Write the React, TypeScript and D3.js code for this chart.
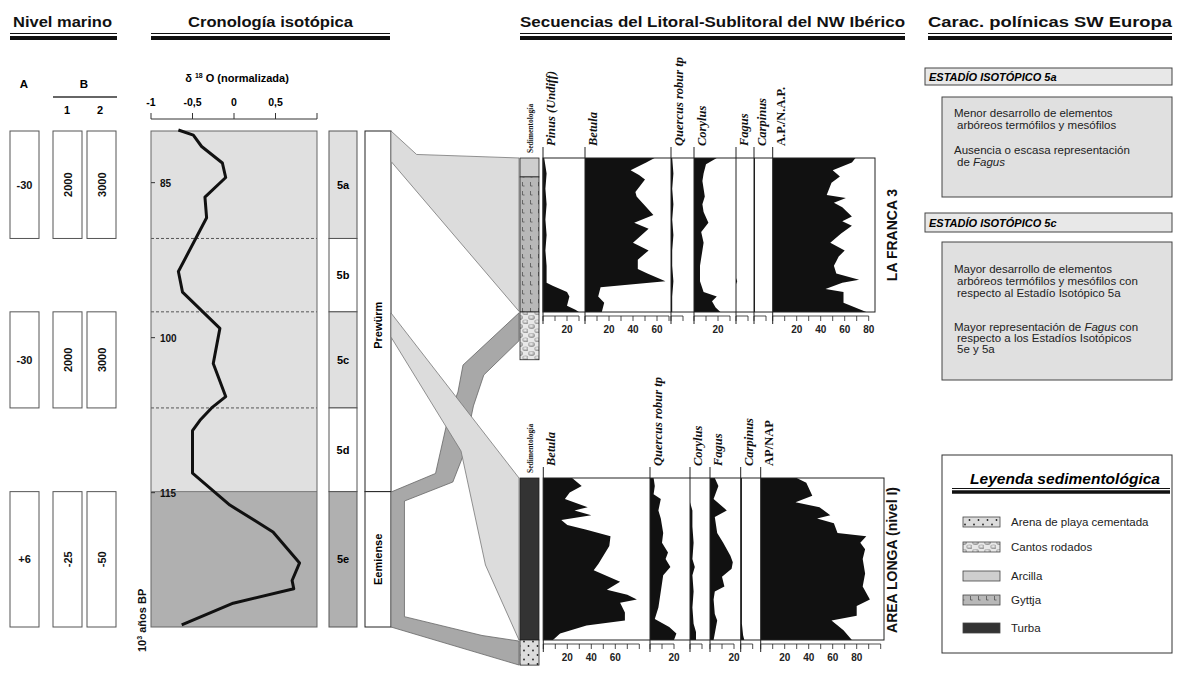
import React from "react";
import * as d3 from "d3";

// ---------------- DATA ----------------
// Isotope curve (age in ka, normalised d18O)
const isoAge = [79.9, 80.4, 81.5, 83.1, 84.5, 86.4, 88.4, 93.6, 95.6, 99.1, 102.5, 105.7, 106.8, 108.0, 109.0, 113.1, 116.2, 118.8, 121.8, 123.5, 124.3, 125.7, 127.8];
const isoD18O = [-0.67, -0.49, -0.39, -0.14, -0.1, -0.35, -0.33, -0.67, -0.62, -0.17, -0.25, -0.1, -0.27, -0.41, -0.5, -0.5, -0.05, 0.47, 0.79, 0.7, 0.72, -0.01, -0.63];
const isoTickValues = [-1, -0.5, 0, 0.5, 1];
const isoTickLabels = ["-1", "-0,5", "0", "0,5", ""];
const ageTickValues = [85, 100, 115];

const stageNames = ["5a", "5b", "5c", "5d", "5e"];
const stageLimits = [80, 90.4, 97.5, 106.8, 114.9, 128];
const stageTone = ["light", "white", "light", "white", "dark"];

const periodNames = ["Prewürm", "Eemiense"];
const periodLimits = [80, 114.9, 128];

const seaStages = [0, 2, 4];
const seaLevelA = ["-30", "-30", "+6"];
const seaLevelB1 = ["2000", "2000", "-25"];
const seaLevelB2 = ["3000", "3000", "-50"];

// La Franca 3 (relative depth 0 = top, 1 = base of pollen record; value %)
const lfTaxa = ["Pinus (Undiff)", "Betula", "Quercus robur tp", "Corylus", "Fagus", "Carpinus", "A.P./N.A.P."];
const lfPinus = [[0, 1], [0.1, 3], [0.2, 2], [0.3, 3], [0.4, 2], [0.5, 3], [0.6, 2], [0.7, 3], [0.81, 3], [0.83, 8], [0.87, 20], [0.9, 22], [0.96, 20], [0.985, 27], [1, 30]];
const lfBetula = [[0, 58], [0.03, 51], [0.08, 38], [0.11, 45], [0.14, 50], [0.22, 42], [0.25, 43], [0.37, 57], [0.42, 41], [0.46, 53], [0.55, 40], [0.6, 53], [0.66, 44], [0.72, 44], [0.75, 52], [0.8, 67], [0.84, 13], [0.9, 11], [0.94, 16], [1, 14]];
const lfQuercus = [[0, 1], [0.1, 2], [0.2, 1], [0.3, 2], [0.4, 1], [0.5, 2], [0.6, 1], [0.7, 1], [0.8, 2], [0.9, 1], [1, 1]];
const lfCorylus = [[0, 19], [0.04, 10], [0.1, 8], [0.15, 7], [0.2, 8], [0.25, 9], [0.3, 7], [0.35, 8], [0.42, 12], [0.48, 6], [0.55, 8], [0.6, 7], [0.7, 5], [0.8, 5], [0.87, 8], [0.9, 19], [0.93, 15], [0.97, 18], [1, 22]];
const lfFagus = [[0, 0], [0.78, 0], [0.8, 1], [0.82, 0], [1, 0]];
const lfCarpinus = [[0, 0.8], [0.25, 0.8], [0.5, 0.8], [0.75, 0.8], [1, 0.8]];
const lfApNap = [[0, 69], [0.03, 66], [0.08, 50], [0.12, 56], [0.16, 49], [0.24, 45], [0.26, 61], [0.29, 51], [0.32, 58], [0.38, 66], [0.41, 58], [0.44, 66], [0.49, 57], [0.55, 48], [0.6, 60], [0.64, 55], [0.67, 53], [0.7, 51], [0.75, 53], [0.79, 72], [0.81, 58], [0.85, 44], [0.87, 59], [0.94, 59], [1, 78]];
const lfAxisMax = [30, 70, 10, 30, 10, 10, 80];
const lfAxisLabels = [[20], [20, 40, 60], [], [20], [], [], [20, 40, 60, 80]];
const lfSediment = [["arcilla", 0, 0.123], ["gyttja", 0.123, 1], ["cantos", 1, 1.31]];

// Area Longa (nivel I)
const alTaxa = ["Betula", "Quercus robur tp", "Corylus", "Fagus", "Carpinus", "AP/NAP"];
const alBetula = [[0, 24], [0.05, 32], [0.09, 22], [0.13, 18], [0.18, 37], [0.2, 26], [0.23, 40], [0.26, 15], [0.29, 20], [0.32, 36], [0.36, 56], [0.42, 55], [0.53, 46], [0.57, 42], [0.64, 64], [0.69, 53], [0.72, 70], [0.75, 78], [0.77, 64], [0.83, 68], [0.88, 68], [0.91, 36], [0.96, 14], [1, 8]];
const alQuercus = [[0, 3], [0.05, 4], [0.1, 3], [0.13, 9], [0.2, 7], [0.25, 9], [0.34, 11], [0.4, 10], [0.46, 15], [0.5, 13], [0.55, 17], [0.6, 11], [0.7, 9], [0.8, 7], [0.87, 4], [0.92, 16], [0.96, 22], [1, 20]];
const alCorylus = [[0, 0], [0.15, 0], [0.2, 2], [0.3, 2], [0.4, 3], [0.5, 2], [0.55, 4], [0.6, 2], [0.7, 3], [0.8, 2], [0.9, 3], [0.95, 5], [1, 5]];
const alFagus = [[0, 4], [0.05, 7], [0.13, 3], [0.2, 14], [0.24, 4], [0.34, 6], [0.4, 11], [0.48, 17], [0.52, 19], [0.56, 18], [0.61, 10], [0.67, 12], [0.7, 4], [0.75, 3], [0.84, 4], [0.88, 6], [0.96, 4], [1, 3]];
const alCarpinus = [[0, 1], [0.3, 1], [0.6, 1], [0.9, 1], [0.97, 2], [1, 3]];
const alApNap = [[0, 30], [0.03, 38], [0.11, 43], [0.15, 29], [0.18, 49], [0.23, 58], [0.25, 47], [0.28, 61], [0.3, 62], [0.34, 64], [0.36, 88], [0.4, 83], [0.44, 87], [0.5, 85], [0.59, 87], [0.67, 85], [0.75, 91], [0.79, 80], [0.85, 80], [0.88, 59], [0.94, 69], [1, 76]];
const alAxisMax = [80, 20, 10, 20, 10, 100];
const alAxisLabels = [[20, 40, 60], [20], [], [20], [], [20, 40, 60, 80]];
const alSediment = [["turba", 0, 1], ["arena", 1, 1.155]];

// Correlation bands: [fraction across the gap, age-equivalent level]
const bandTop = [[0, 80], [0.2, 82.27], [1, 82.61], [1, 97.45], [0, 82.94]];
const bandDark = [[1, 97.6], [0.5625, 102.65], [0.523, 105.26], [0.442, 107.97], [0.348, 113.14], [0, 114.94], [0, 128], [1, 131.68], [1, 129.36], [0.711, 128.82], [0.105, 127], [0.105, 115.81], [0.483, 113.97], [0.5625, 111.45], [0.644, 106.61], [0.725, 103.61], [1, 100.3]];
const bandCross = [[0, 97.61], [1, 113.58], [1, 129.26], [0.738, 122], [0.547, 110.97], [0, 99.94]];

const legendKeys = ["arena", "cantos", "arcilla", "gyttja", "turba"];
const legendNames = ["Arena de playa cementada", "Cantos rodados", "Arcilla", "Gyttja", "Turba"];

const headers = ["Nivel marino", "Cronología isotópica", "Secuencias del Litoral-Sublitoral del NW Ibérico", "Carac. polínicas SW Europa"];

// ---------------- STYLE / LAYOUT ----------------
const SANS = "'Liberation Sans', Arial, sans-serif";
const SERIF = "'Liberation Serif', 'Times New Roman', serif";
const LIGHT = "#e0e0e0";
const DARK = "#b0b0b0";
const K = 1.2; // px per %

const headerRules = [[10, 117], [151, 390], [520, 905], [928, 1172]];
const headerText = [[13, 99], [188, 165], [520, 385], [928, 244]];

function DoubleRule({ x1, x2, y }: { x1: number; x2: number; y: number }) {
  return (
    <g>
      <line x1={x1} x2={x2} y1={y} y2={y} stroke="#111" strokeWidth={1.2} />
      <line x1={x1} x2={x2} y1={y + 4.5} y2={y + 4.5} stroke="#111" strokeWidth={4} />
    </g>
  );
}

type SiteProps = {
  top: number; bottom: number; right: number; x0s: number[]; names: string[];
  series: number[][][]; maxes: number[]; labels: number[][]; sed: any[];
  title: string; titleY: number; upright: number;
};

function Site(p: SiteProps) {
  const yD = d3.scaleLinear().domain([0, 1]).range([p.top, p.bottom]);
  return (
    <g>
      {p.sed.map(([kind, a, b]: any, i: number) => (
        <rect key={i} x={520} y={yD(a)} width={19} height={yD(b) - yD(a)} fill={`url(#${kind})`} stroke="#222" strokeWidth={0.8} />
      ))}
      <text transform={`translate(532.5,${p.top - 5}) rotate(-90)`} fontFamily={SERIF} fontWeight="bold" fontSize={7.5} fill="#111">Sedimentología</text>
      <rect x={p.x0s[0]} y={p.top} width={p.right - p.x0s[0]} height={p.bottom - p.top} fill="#fff" />
      {p.series.map((s, i) => {
        const x = d3.scaleLinear().domain([0, p.maxes[i]]).range([p.x0s[i], p.x0s[i] + p.maxes[i] * K]);
        const area = d3.area<number[]>().x0(x(0)).x1((d) => x(d[1])).y((d) => yD(d[0]));
        const ticks = d3.range(0, p.maxes[i] + 0.01, 10);
        const axY = p.bottom + 4;
        return (
          <g key={i}>
            <path d={area(s as any) || ""} fill="#111" />
            <line x1={p.x0s[i]} x2={p.x0s[i]} y1={p.top - 11} y2={p.bottom + 12} stroke="#222" strokeWidth={1} />
            <line x1={x(0)} x2={x(p.maxes[i])} y1={axY} y2={axY} stroke="#222" strokeWidth={0.8} />
            {ticks.map((t) => (
              <line key={t} x1={x(t)} x2={x(t)} y1={axY} y2={axY + 5} stroke="#222" strokeWidth={0.8} />
            ))}
            {p.labels[i].map((t) => (
              <text key={t} x={x(t)} y={p.bottom + 21} textAnchor="middle" fontFamily={SANS} fontWeight="bold" fontSize={10} fill="#222">{t}</text>
            ))}
            <text transform={`translate(${p.x0s[i] + 12},${p.top - 12}) rotate(-90)`} fontFamily={SERIF} fontWeight="bold" fontStyle={i === p.upright ? "normal" : "italic"} fontSize={12.5} fill="#111">{p.names[i]}</text>
          </g>
        );
      })}
      <rect x={p.x0s[0]} y={p.top} width={p.right - p.x0s[0]} height={p.bottom - p.top} fill="none" stroke="#222" strokeWidth={1} />
      <text transform={`translate(897,${p.titleY}) rotate(-90)`} textAnchor="middle" fontFamily={SANS} fontWeight="bold" fontSize={14} fill="#111">{p.title}</text>
    </g>
  );
}

export default function App() {
  const yAge = d3.scaleLinear().domain([80, 128]).range([131, 627]);
  const xIso = d3.scaleLinear().domain([-1, 1]).range([151, 317]);
  const isoLine = d3.line<number>().x((_, i) => xIso(isoD18O[i])).y((a) => yAge(a));
  const gapX = d3.scaleLinear().domain([0, 1]).range([391, 519]);
  const bandPath = (pts: number[][]) => d3.line<number[]>().x((d) => gapX(d[0])).y((d) => yAge(d[1]))(pts) + "Z";
  const toneFill = (t: string) => (t === "light" ? LIGHT : t === "dark" ? DARK : "#fff");

  const seaCols = [[10, 39, seaLevelA, false], [53, 82, seaLevelB1, true], [87, 116, seaLevelB2, true]] as any[];

  return (
    <svg width={1179} height={673} style={{ position: "absolute", left: 0, top: 0, background: "#fff" }} fontFamily={SANS}>
      <defs>
        <pattern id="arcilla" width={10} height={10} patternUnits="userSpaceOnUse">
          <rect width={10} height={10} fill="#cecece" />
        </pattern>
        <pattern id="gyttja" width={8} height={9} patternUnits="userSpaceOnUse">
          <rect width={8} height={9} fill="#b8b8b8" />
          <path d="M2.5 2 v4 h2" stroke="#444" strokeWidth={0.7} fill="none" />
        </pattern>
        <pattern id="arena" width={9} height={9} patternUnits="userSpaceOnUse">
          <rect width={9} height={9} fill="#dcdcdc" />
          <circle cx={2} cy={2.5} r={0.9} fill="#222" />
          <circle cx={6.5} cy={7} r={0.9} fill="#222" />
        </pattern>
        <radialGradient id="pebble" cx="45%" cy="40%" r="60%">
          <stop offset="0%" stopColor="#f4f4f4" />
          <stop offset="100%" stopColor="#8a8a8a" />
        </radialGradient>
        <pattern id="cantos" width={12} height={9} patternUnits="userSpaceOnUse">
          <rect width={12} height={9} fill="#e8e8e8" />
          <ellipse cx={3.5} cy={2.5} rx={3.4} ry={2.4} fill="url(#pebble)" />
          <ellipse cx={9.5} cy={6.8} rx={3.2} ry={2.3} fill="url(#pebble)" />
        </pattern>
        <pattern id="turba" width={10} height={10} patternUnits="userSpaceOnUse">
          <rect width={10} height={10} fill="#333" />
        </pattern>
      </defs>

      {/* headers */}
      {headers.map((h, i) => (
        <g key={h}>
          <text x={headerText[i][0]} y={27} textLength={headerText[i][1]} lengthAdjust="spacingAndGlyphs" fontWeight="bold" fontSize={14} fill="#111">{h}</text>
          <DoubleRule x1={headerRules[i][0]} x2={headerRules[i][1]} y={33.5} />
        </g>
      ))}

      {/* sea level */}
      <text x={24} y={88} textAnchor="middle" fontWeight="bold" fontSize={11.5}>A</text>
      <text x={84} y={88} textAnchor="middle" fontWeight="bold" fontSize={11.5}>B</text>
      <line x1={53} x2={117} y1={97} y2={97} stroke="#333" strokeWidth={1.5} />
      <text x={67} y={114} textAnchor="middle" fontWeight="bold" fontSize={11}>1</text>
      <text x={100} y={114} textAnchor="middle" fontWeight="bold" fontSize={11}>2</text>
      {seaStages.map((st, r) => {
        const y1 = yAge(stageLimits[st]);
        const y2 = yAge(stageLimits[st + 1]);
        return seaCols.map(([a, b, vals, rot]: any, c: number) => {
          const cx = (a + b) / 2;
          const cy = (y1 + y2) / 2;
          return (
            <g key={`${r}-${c}`}>
              <rect x={a} y={y1} width={b - a} height={y2 - y1} fill="#fff" stroke="#555" strokeWidth={1} />
              <text transform={`translate(${cx},${cy}) rotate(${rot ? -90 : 0})`} dy={4} textAnchor="middle" fontWeight="bold" fontSize={11} fill="#111">{vals[r]}</text>
            </g>
          );
        });
      })}

      {/* isotope panel */}
      <text x={237} y={82} textAnchor="middle" fontWeight="bold" fontSize={11}>
        δ <tspan fontSize={7} dy={-4}>18</tspan><tspan dy={4}> O (normalizada)</tspan>
      </text>
      <line x1={xIso(-1)} x2={xIso(1)} y1={119} y2={119} stroke="#333" strokeWidth={1} />
      {isoTickValues.map((v, i) => (
        <g key={v}>
          <line x1={xIso(v)} x2={xIso(v)} y1={113} y2={119} stroke="#333" strokeWidth={1} />
          <text x={xIso(v)} y={106} textAnchor="middle" fontWeight="bold" fontSize={10.5}>{isoTickLabels[i]}</text>
        </g>
      ))}
      <rect x={151} y={yAge(80)} width={166} height={yAge(stageLimits[4]) - yAge(80)} fill={LIGHT} />
      <rect x={151} y={yAge(stageLimits[4])} width={166} height={yAge(128) - yAge(stageLimits[4])} fill={DARK} />
      <line x1={151} x2={317} y1={yAge(stageLimits[4])} y2={yAge(stageLimits[4])} stroke="#777" strokeWidth={1} />
      {stageLimits.slice(1, 4).map((a) => (
        <line key={a} x1={151} x2={317} y1={yAge(a)} y2={yAge(a)} stroke="#555" strokeWidth={1} strokeDasharray="3,2" />
      ))}
      <rect x={151} y={yAge(80)} width={166} height={yAge(128) - yAge(80)} fill="none" stroke="#666" strokeWidth={1} />
      {ageTickValues.map((a) => (
        <g key={a}>
          <line x1={151} x2={155} y1={yAge(a)} y2={yAge(a)} stroke="#333" />
          <text x={160} y={yAge(a) + 4} fontWeight="bold" fontSize={10} fill="#111">{a}</text>
        </g>
      ))}
      <path d={isoLine(isoAge) || ""} fill="none" stroke="#111" strokeWidth={3} strokeLinejoin="round" />
      <text transform="translate(146,652) rotate(-90)" fontWeight="bold" fontSize={11} fill="#111">
        10<tspan fontSize={7} dy={-4}>3</tspan><tspan dy={4}> años BP</tspan>
      </text>

      {/* stages column */}
      {stageNames.map((s, i) => {
        const y1 = yAge(stageLimits[i]);
        const y2 = yAge(stageLimits[i + 1]);
        return (
          <g key={s}>
            <rect x={329} y={y1} width={28} height={y2 - y1} fill={toneFill(stageTone[i])} stroke="#555" strokeWidth={1} />
            <text x={343} y={(y1 + y2) / 2 + 4} textAnchor="middle" fontWeight="bold" fontSize={11}>{s}</text>
          </g>
        );
      })}
      {/* period column */}
      {periodNames.map((n, i) => {
        const y1 = yAge(periodLimits[i]);
        const y2 = yAge(periodLimits[i + 1]);
        return (
          <g key={n}>
            <rect x={365} y={y1} width={26} height={y2 - y1} fill="#fff" stroke="#222" strokeWidth={1} />
            <text transform={`translate(382,${(y1 + y2) / 2 + (i === 0 ? 14 : 0)}) rotate(-90)`} textAnchor="middle" fontWeight="bold" fontSize={11}>{n}</text>
          </g>
        );
      })}

      {/* correlation bands */}
      <path d={bandPath(bandTop)} fill="#dcdcdc" stroke="#777" strokeWidth={0.8} />
      <path d={bandPath(bandDark)} fill="#a8a8a8" stroke="#666" strokeWidth={0.8} />
      <path d={bandPath(bandCross)} fill="#dcdcdc" stroke="#777" strokeWidth={0.8} />

      {/* pollen sites */}
      <Site top={158} bottom={312} right={875} x0s={[543, 585, 671, 694, 736, 754, 772.7]} names={lfTaxa}
        series={[lfPinus, lfBetula, lfQuercus, lfCorylus, lfFagus, lfCarpinus, lfApNap]} maxes={lfAxisMax}
        labels={lfAxisLabels} sed={lfSediment} title="LA FRANCA 3" titleY={235} upright={6} />
      <Site top={478} bottom={640} right={884} x0s={[543.3, 650, 690, 710, 740.7, 760.7]} names={alTaxa}
        series={[alBetula, alQuercus, alCorylus, alFagus, alCarpinus, alApNap]} maxes={alAxisMax}
        labels={alAxisLabels} sed={alSediment} title="AREA LONGA (nivel I)" titleY={560} upright={5} />

      {/* right panels */}
      <rect x={925} y={68} width={247} height={17} fill="#e8e8e8" stroke="#444" strokeWidth={1} />
      <text x={929} y={81} fontWeight="bold" fontStyle="italic" fontSize={11}>ESTADÍO ISOTÓPICO 5a</text>
      <rect x={942} y={97} width={230} height={100} fill={LIGHT} stroke="#444" strokeWidth={1} />
      <g fontSize={11.5} fill="#222">
        <text x={954} y={117}>Menor desarrollo de elementos</text>
        <text x={957} y={129}>arbóreos termófilos y mesófilos</text>
        <text x={954} y={154}>Ausencia o escasa representación</text>
        <text x={957} y={166}>de <tspan fontStyle="italic">Fagus</tspan></text>
      </g>
      <rect x={925} y={213} width={247} height={19} fill="#e8e8e8" stroke="#444" strokeWidth={1} />
      <text x={929} y={227} fontWeight="bold" fontStyle="italic" fontSize={11}>ESTADÍO ISOTÓPICO 5c</text>
      <rect x={942} y={242} width={230} height={138} fill={LIGHT} stroke="#444" strokeWidth={1} />
      <g fontSize={11.5} fill="#222">
        <text x={954} y={273}>Mayor desarrollo de elementos</text>
        <text x={957} y={285}>arbóreos termófilos y mesófilos con</text>
        <text x={957} y={297}>respecto al Estadío Isotópico 5a</text>
        <text x={954} y={331}>Mayor representación de <tspan fontStyle="italic">Fagus</tspan> con</text>
        <text x={957} y={342}>respecto a los Estadíos Isotópicos</text>
        <text x={957} y={353}>5e y 5a</text>
      </g>

      {/* legend */}
      <rect x={942} y={455} width={230} height={198} fill="#fff" stroke="#333" strokeWidth={1} />
      <text x={970} y={484} textLength={190} lengthAdjust="spacingAndGlyphs" fontWeight="bold" fontStyle="italic" fontSize={14.5}>Leyenda sedimentológica</text>
      <line x1={952} x2={1170} y1={488.5} y2={488.5} stroke="#111" strokeWidth={1} />
      <line x1={952} x2={1170} y1={492} y2={492} stroke="#111" strokeWidth={3.5} />
      {legendKeys.map((k, i) => {
        const cy = [522, 547, 576, 600, 628][i];
        return (
          <g key={k}>
            <rect x={963} y={cy - 5} width={37} height={10} fill={`url(#${k})`} stroke="#444" strokeWidth={0.8} />
            <text x={1011} y={cy + 4} fontSize={11.5} fill="#222">{legendNames[i]}</text>
          </g>
        );
      })}
    </svg>
  );
}
